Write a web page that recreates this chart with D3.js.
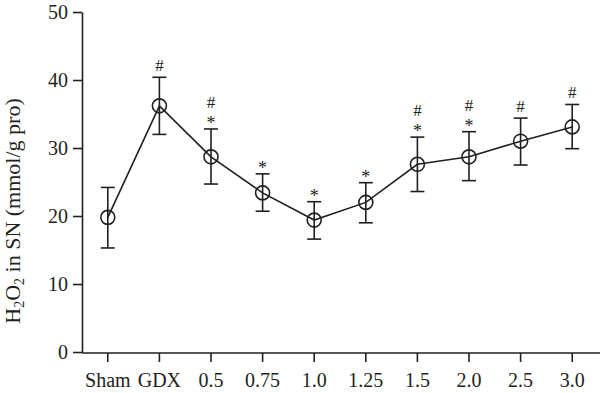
<!DOCTYPE html>
<html>
<head>
<meta charset="utf-8">
<script src="https://cdn.jsdelivr.net/npm/d3@7"></script>
<style>
  body { margin: 0; background: #fff; }
  text { font-family: "Liberation Serif", "DejaVu Serif", serif; fill: #231f20; }
</style>
</head>
<body>
<div class="chart"></div>
<script>
var categories = ["Sham", "GDX", "0.5", "0.75", "1.0", "1.25", "1.5", "2.0", "2.5", "3.0"]
var means = [19.8, 36.2, 28.7, 23.4, 19.4, 22.0, 27.6, 28.7, 31.0, 33.1]
var upper = [24.2, 40.4, 32.8, 26.2, 22.1, 24.9, 31.6, 32.4, 34.4, 36.4]
var lower = [15.3, 32.0, 24.7, 20.7, 16.6, 19.0, 23.6, 25.2, 27.5, 29.9]
var marks = [[], ["#"], ["*", "#"], ["*"], ["*"], ["*"], ["*", "#"], ["*", "#"], ["#"], ["#"]]
var yTicks = [0, 10, 20, 30, 40, 50]

var width = 600
var height = 393
var ink = "#231f20"

var svg = d3.select(".chart")
  .append("svg")
  .attr("width", width)
  .attr("height", height)

var x = d3.scaleBand().domain(categories).range([82, 598])
var y = d3.scaleLinear().domain([0, 50]).range([352, 12])
var cx = d => x(d) + x.bandwidth() / 2

// axes
var yAxis = svg.append("g")
  .attr("transform", "translate(82,0)")
  .call(d3.axisLeft(y).tickValues(yTicks).tickSize(9).tickPadding(5).tickSizeOuter(0))
var xAxis = svg.append("g")
  .attr("transform", "translate(0,353)")
  .call(d3.axisBottom(x).tickSize(9).tickSizeOuter(0))

svg.selectAll(".domain").attr("stroke", ink).attr("stroke-width", 1.6)
svg.selectAll(".tick line").attr("stroke", ink).attr("stroke-width", 1.6)
svg.selectAll(".tick text").attr("font-size", 20).attr("fill", ink)
  .style("font-family", "'Liberation Serif', serif")
xAxis.selectAll(".tick text").attr("y", 34).attr("dy", 0)
xAxis.select(".domain").attr("d", "M82,0H600")

// y label
var ylab = svg.append("text")
  .attr("transform", "translate(19.5,211) rotate(-90)")
  .attr("text-anchor", "middle")
  .attr("font-size", 22)
ylab.append("tspan").text("H")
ylab.append("tspan").text("2").attr("font-size", 14).attr("dy", 4)
ylab.append("tspan").text("O").attr("dy", -4)
ylab.append("tspan").text("2").attr("font-size", 14).attr("dy", 4)
ylab.append("tspan").text(" in SN (mmol/g pro)").attr("dy", -4)

var rows = categories.map((c, i) => ({c: c, m: means[i], hi: upper[i], lo: lower[i], marks: marks[i]}))

// error bars
var eb = svg.append("g").attr("stroke", ink).attr("stroke-width", 1.6)
rows.forEach(function(d) {
  var px = cx(d.c)
  eb.append("line").attr("x1", px).attr("x2", px).attr("y1", y(d.hi)).attr("y2", y(d.lo))
  eb.append("line").attr("x1", px - 7).attr("x2", px + 7).attr("y1", y(d.hi)).attr("y2", y(d.hi))
  eb.append("line").attr("x1", px - 7).attr("x2", px + 7).attr("y1", y(d.lo)).attr("y2", y(d.lo))
})

// line
var line = d3.line().x(d => cx(d.c)).y(d => y(d.m))
svg.append("path")
  .datum(rows)
  .attr("d", line)
  .attr("fill", "none")
  .attr("stroke", ink)
  .attr("stroke-width", 1.6)

// points
svg.selectAll("circle")
  .data(rows)
  .enter()
  .append("circle")
  .attr("cx", d => cx(d.c))
  .attr("cy", d => y(d.m))
  .attr("r", 7)
  .attr("fill", "none")
  .attr("stroke", ink)
  .attr("stroke-width", 1.6)

// significance marks
rows.forEach(function(d) {
  d.marks.forEach(function(m, j) {
    svg.append("text")
      .attr("x", cx(d.c))
      .attr("y", y(d.hi) - (m == "*" ? 0 : 6) - j * 15)
      .attr("text-anchor", "middle")
      .attr("font-size", m == "*" ? 18 : 17)
      .attr("fill", m == "*" ? "#555" : ink)
      .text(m)
  })
})
</script>
</body>
</html>
